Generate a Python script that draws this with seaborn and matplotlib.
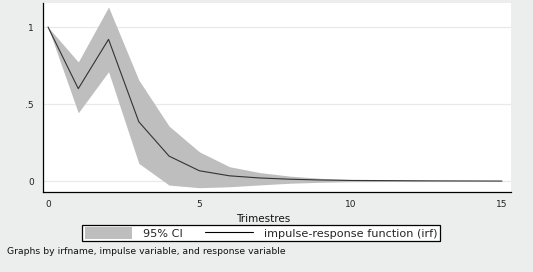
import numpy as np
import pandas as pd
import seaborn as sns
import matplotlib.pyplot as plt
from matplotlib.patches import Patch
from matplotlib.lines import Line2D

# impulse response
steps = list(range(16))
irf = [1.0, 0.60, 0.92, 0.385, 0.162, 0.067, 0.034, 0.020, 0.012, 0.007,
       0.004, 0.003, 0.002, 0.001, 0.0005, 0.0]
ci_low = [1.0, 0.443, 0.71, 0.115, -0.026, -0.043, -0.037, -0.025, -0.014, -0.008,
          -0.004, -0.003, -0.002, -0.001, -0.0005, 0.0]
ci_high = [1.0, 0.773, 1.13, 0.656, 0.357, 0.19, 0.093, 0.055, 0.032, 0.018,
           0.010, 0.006, 0.004, 0.002, 0.001, 0.0]
y_ticks = [0, 0.5, 1]
y_labels = ['0', '.5', '1']
x_ticks = [0, 5, 10, 15]

df = pd.DataFrame({'step': steps, 'irf': irf, 'lo': ci_low, 'hi': ci_high})

sns.set_style('white')
plt.rcParams['font.family'] = ['DejaVu Sans']

W, H = 533, 272
fig = plt.figure(figsize=(W / 100, H / 100), dpi=100, facecolor='#eceeee')

ax = fig.add_axes([43 / W, 1 - 192 / H, 468 / W, 189 / H])
ax.set_facecolor('white')

ax.fill_between(df['step'], df['lo'], df['hi'], color='#bebebe', linewidth=0, zorder=2)
sns.lineplot(data=df, x='step', y='irf', color='#333333', linewidth=0.8, ax=ax, zorder=3)

for yv in y_ticks:
    ax.axhline(yv, color='#e6eaea', linewidth=0.9, zorder=1)

ax.set_xlim(-0.166, 15.3)
ax.set_ylim(-0.071, 1.156)
ax.set_xticks(x_ticks)
ax.set_yticks(y_ticks)
ax.set_yticklabels(y_labels)
ax.tick_params(axis='both', direction='out', length=4, width=0.8, labelsize=6.5,
               color='black', labelcolor='#222222')
ax.tick_params(axis='x', pad=1.5)
ax.tick_params(axis='y', pad=2.5)
for s in ['top', 'right']:
    ax.spines[s].set_visible(False)
for s in ['left', 'bottom']:
    ax.spines[s].set_color('black')
    ax.spines[s].set_linewidth(0.9)
ax.set_xlabel('Trimestres', fontsize=7.5, color='#111111')
ax.xaxis.set_label_coords((263 - 43) / 468, -(214 - 192) / 189)
ax.set_ylabel('')

handles = [Patch(facecolor='#bebebe', edgecolor='none'),
           Line2D([0], [0], color='black', linewidth=0.8)]
leg = fig.legend(handles, ['95% CI', 'impulse-response function (irf)'],
                 loc='center', bbox_to_anchor=(261 / W, 1 - 233 / H), ncol=2,
                 fontsize=8.1, frameon=True, fancybox=False, handlelength=4.2,
                 handleheight=1.2, columnspacing=2.0, borderpad=0.2,
                 handletextpad=1.0, borderaxespad=0)
leg.get_frame().set_edgecolor('black')
leg.get_frame().set_facecolor('white')
leg.get_frame().set_alpha(1)
leg.get_frame().set_linewidth(0.9)

fig.text(7 / W, 1 - 251 / H,
         'Graphs by irfname, impulse variable, and response variable',
         fontsize=6.7, va='center', ha='left', color='#111111')

fig.savefig('out.png', dpi=100, facecolor=fig.get_facecolor())
